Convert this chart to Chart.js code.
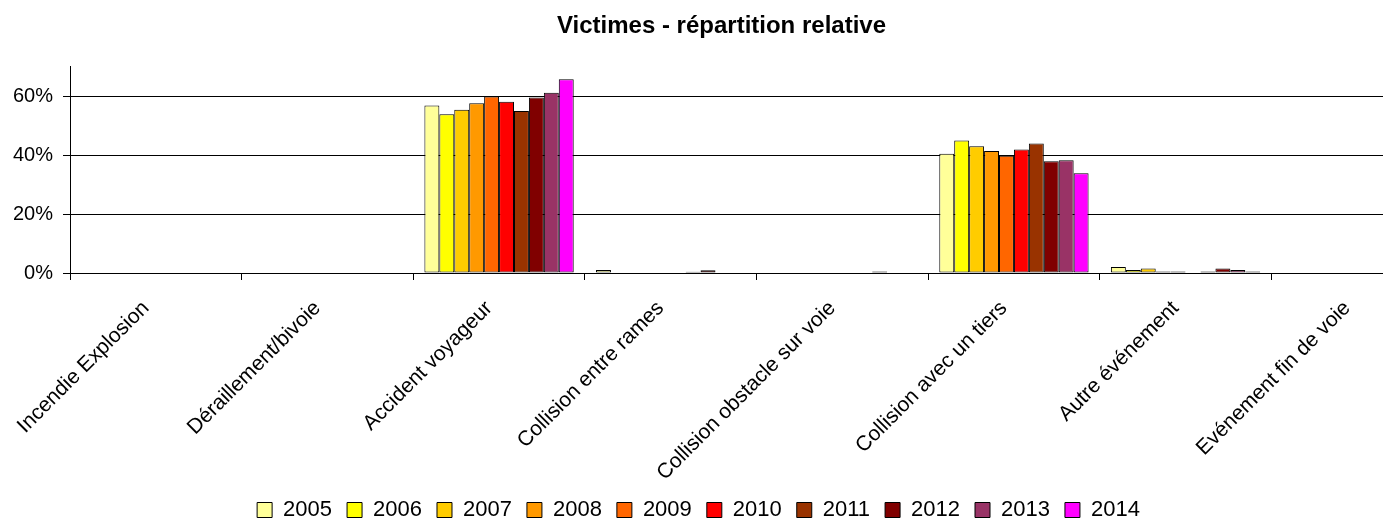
<!DOCTYPE html>
<html lang="fr">
<head>
<meta charset="utf-8">
<title>Victimes - répartition relative</title>
<script src="https://cdn.jsdelivr.net/npm/chart.js@4.4.1/dist/chart.umd.min.js"></script>
<style>
  html, body { margin: 0; padding: 0; background: #fff; overflow: hidden; }
  #wrap { width: 1443px; height: 521px; }
</style>
</head>
<body>
<div id="wrap"><canvas id="victimChart" width="1443" height="521"></canvas></div>
<script>
/* ================================
   Victimes — répartition relative
   ================================ */

// Catégories d'événement (axe X)
const categories = [
  'Incendie Explosion',
  'Déraillement/bivoie',
  'Accident voyageur',
  'Collision entre rames',
  'Collision obstacle sur voie',
  'Collision avec un tiers',
  'Autre événement',
  'Evénement fin de voie'
];

const years = ['2005', '2006', '2007', '2008', '2009', '2010', '2011', '2012', '2013', '2014'];

// Part des victimes (%) par catégorie, une liste par année
const v2005 = [0, 0, 56.9, 1.0, 0,   40.5, 2.0, 0];
const v2006 = [0, 0, 53.9, 0,   0,   45.0, 1.0, 0];
const v2007 = [0, 0, 55.4, 0,   0,   43.0, 1.5, 0];
const v2008 = [0, 0, 57.6, 0,   0,   41.4, 0.5, 0];
const v2009 = [0, 0, 59.9, 0,   0,   39.8, 0.5, 0];
const v2010 = [0, 0, 58.1, 0,   0,   41.9, 0,   0];
const v2011 = [0, 0, 55.0, 0.4, 0,   44.0, 0.5, 0];
const v2012 = [0, 0, 59.6, 0.9, 0.5, 37.9, 1.5, 0];
const v2013 = [0, 0, 61.2, 0,   0,   38.3, 1.0, 0];
const v2014 = [0, 0, 65.8, 0,   0,   33.9, 0.5, 0];

// Graduations de l'axe Y
const yTicks = [0, 20, 40, 60];
const yMax = 70;

const seriesValues = [v2005, v2006, v2007, v2008, v2009, v2010, v2011, v2012, v2013, v2014];
const seriesColors = ['#FFFF99', '#FFFF00', '#FFCC00', '#FF9900', '#FF6600',
                      '#FF0000', '#993300', '#800000', '#993366', '#FF00FF'];

const FONT = "'Liberation Sans', Arial, sans-serif";

Chart.defaults.font.family = FONT;
Chart.defaults.color = '#000';

// la légende Excel est un peu décalée vers la gauche par rapport au titre
const legendShift = {
  id: 'legendShift',
  afterLayout(chart) {
    chart.legend.left -= 23;
    chart.legend.right -= 23;
  }
};

const datasets = years.map((y, i) => ({
  label: y,
  data: seriesValues[i],
  backgroundColor: seriesColors[i],
  borderColor: '#000',
  borderWidth: 1,
  borderSkipped: false,
  categoryPercentage: 0.87,
  barPercentage: 1.0
}));

const ctx = document.getElementById('victimChart').getContext('2d');
new Chart(ctx, {
  type: 'bar',
  data: { labels: categories, datasets },
  plugins: [legendShift],
  options: {
    responsive: false,
    animation: false,
    devicePixelRatio: 1,
    layout: { padding: { left: 0, right: 0, top: 0, bottom: -10 } },
    plugins: {
      title: {
        display: true,
        text: 'Victimes - répartition relative',
        color: '#000',
        font: { size: 24, weight: 'bold', family: FONT },
        padding: { top: 12, bottom: 26 }
      },
      legend: {
        position: 'bottom',
        labels: {
          boxWidth: 15,
          boxHeight: 15,
          padding: 15,
          color: '#000',
          font: { size: 22, family: FONT }
        }
      },
      tooltip: { enabled: false }
    },
    scales: {
      x: {
        grid: {
          offset: true,
          drawOnChartArea: false,
          drawTicks: true,
          tickLength: 7,
          color: '#000'
        },
        border: { display: true, color: '#000', width: 1 },
        ticks: {
          autoSkip: false,
          maxRotation: 45,
          minRotation: 45,
          padding: 16,
          labelOffset: -10,
          color: '#000',
          font: { size: 21, family: FONT }
        },
        afterFit: s => { s.height = 211; }
      },
      y: {
        min: 0,
        max: yMax,
        grid: { color: '#000', lineWidth: 1, tickLength: 7 },
        border: { display: true, color: '#000', width: 1 },
        ticks: {
          stepSize: 20,
          padding: 10,
          color: '#000',
          font: { size: 20, family: FONT },
          callback: v => v + '%'
        },
        afterBuildTicks: s => { s.ticks = yTicks.map(v => ({ value: v })); },
        afterFit: s => { s.width = 70; }
      }
    }
  }
});
</script>
</body>
</html>
